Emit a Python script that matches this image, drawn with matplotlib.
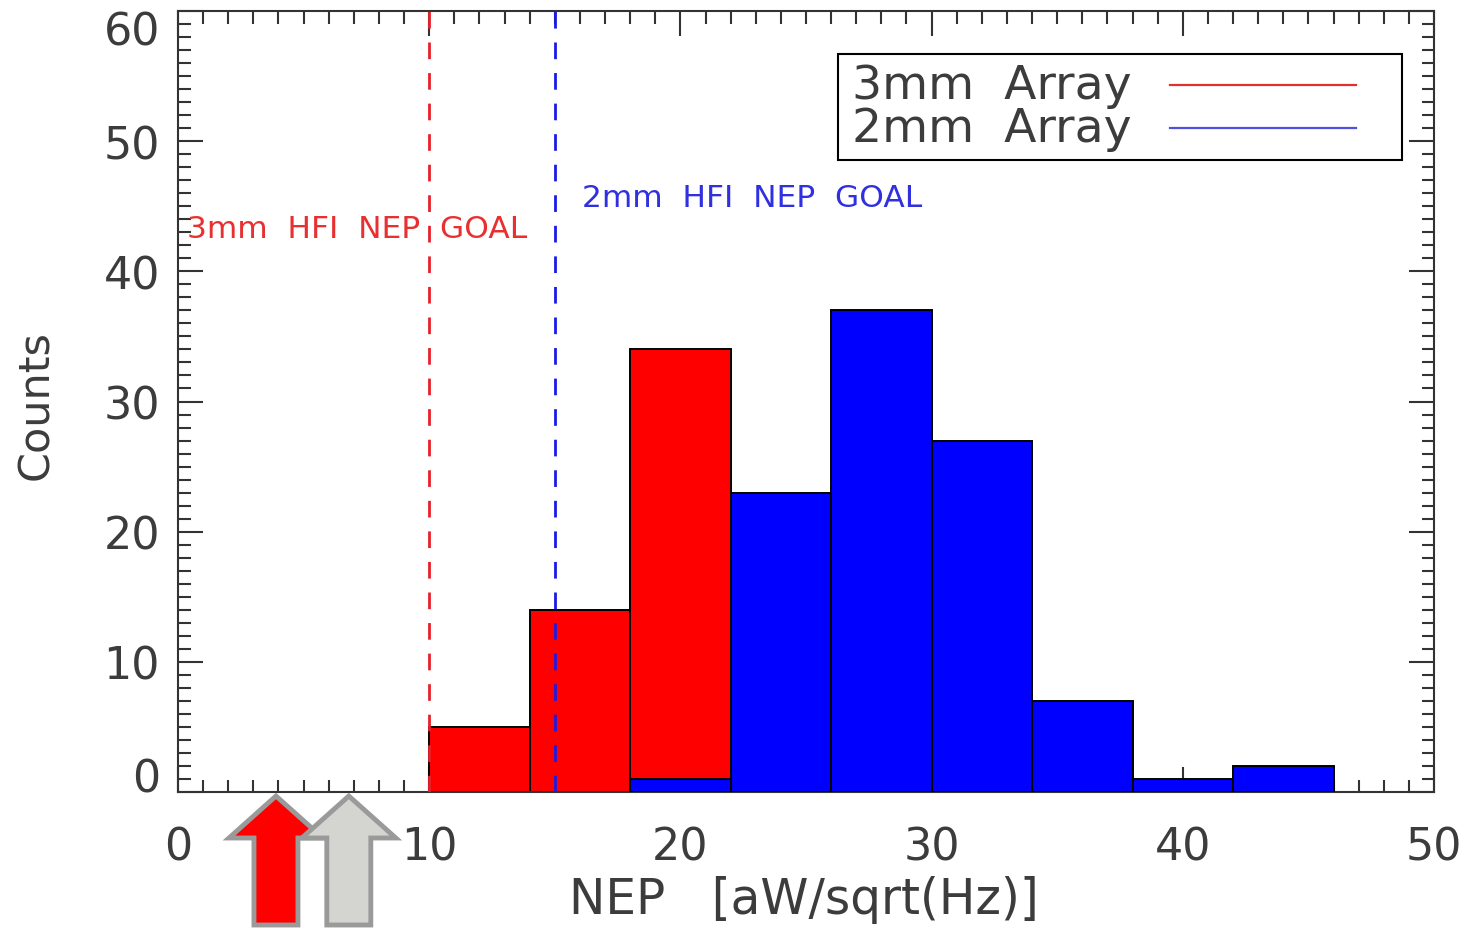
import matplotlib
matplotlib.use("Agg")
import matplotlib.pyplot as plt
from matplotlib.patches import Polygon
from matplotlib.ticker import MultipleLocator

# Histogram data: NEP bins (left edges, width 4) and counts
bin_width = 4
red_edges = [10, 14, 18]
red_counts = [5, 14, 34]
blue_edges = [18, 22, 26, 30, 34, 38, 42]
blue_counts = [1, 23, 37, 27, 7, 1, 2]

goal_3mm = 10
goal_2mm = 15

x_ticks = [0, 10, 20, 30, 40, 50]
y_ticks = [0, 10, 20, 30, 40, 50, 60]

legend_labels = ["3mm  Array", "2mm  Array"]
goal_labels = ["3mm  HFI  NEP  GOAL", "2mm  HFI  NEP  GOAL"]

# Arrow markers below the axis (NEP positions)
arrow_x = [3.9, 6.8]
arrow_fill = ["#ff0000", "#d4d4d0"]

txt = "#3c3c3c"
plt.rcParams['font.family'] = ['DejaVu Sans']

W, H = 1470, 929
fig = plt.figure(figsize=(W/100, H/100), dpi=100)
ax = fig.add_axes([178/W, 1-793/H, (1434-178)/W, (793-12)/H])

ax.bar(red_edges, red_counts, width=bin_width, align='edge', color='#ff0000',
       edgecolor='black', linewidth=1.4, zorder=2)
ax.bar(blue_edges, blue_counts, width=bin_width, align='edge', color='#0000ff',
       edgecolor='black', linewidth=1.4, zorder=3)

ax.axvline(goal_3mm, color='#e8202a', linestyle=(0, (6, 5)), linewidth=2, zorder=4)
ax.axvline(goal_2mm, color='#1a1ae6', linestyle=(0, (6, 5)), linewidth=2, zorder=4)

ax.text(0.35, 43.3, goal_labels[0], color='#e83030', fontsize=22.5,
        va='center', ha='left', zorder=5)
ax.text(16.1, 45.7, goal_labels[1], color='#3030e0', fontsize=22.5,
        va='center', ha='left', zorder=5)

ax.set_xlim(0, 50)
ax.set_ylim(0, 60)
ax.set_xticks(x_ticks)
ax.set_yticks(y_ticks)
ax.xaxis.set_minor_locator(MultipleLocator(1))
ax.yaxis.set_minor_locator(MultipleLocator(1))
ax.tick_params(which='both', direction='in', top=True, right=True,
               colors='#333333', labelcolor=txt, labelsize=32, width=1.5)
ax.tick_params(which='major', length=18)
ax.tick_params(which='minor', length=9)
ax.tick_params(axis='x', which='major', pad=24)
ax.tick_params(axis='y', which='major', pad=13)
for s in ax.spines.values():
    s.set_color('#333333')
    s.set_linewidth(1.5)

# End labels on the y axis sit inside the axis range
yticks = ax.yaxis.get_major_ticks()
yticks[0].label1.set_va('baseline')
yticks[-1].label1.set_va('top')

ax.set_xlabel("NEP   [aW/sqrt(Hz)]", fontsize=35, color=txt)
ax.xaxis.set_label_coords(0.498, -0.106)
ax.xaxis.label.set_va('top')
ax.set_ylabel("Counts", fontsize=31, color=txt)
ax.yaxis.set_label_coords(-0.096, 0.497)

# Legend box drawn in axes data units
px_x = (1434-178)/50
px_y = (793-12)/60
lx0, lx1 = (838-178)/px_x, (1402-178)/px_x
ly0, ly1 = (793-161)/px_y, (793-55)/px_y
ax.add_patch(plt.Rectangle((lx0, ly0), lx1-lx0, ly1-ly0, fill=False,
                           edgecolor='black', linewidth=1.5, zorder=6))
for i, (lab, col) in enumerate(zip(legend_labels, ['#e03030', '#5050e0'])):
    yy = (793-(86+43*i))/px_y
    ax.text((852-178)/px_x, yy, lab, fontsize=34, color=txt, va='center', ha='left', zorder=6)
    ax.plot([(1170-178)/px_x, (1356-178)/px_x], [yy, yy], color=col, linewidth=1.6, zorder=6)

# Upward block arrows beneath the axis, in figure pixels
for x0, fc in zip(arrow_x, arrow_fill):
    cx = 178 + x0*px_x
    tip, hb, bot = 797, 839, 926
    hw, sw = 47, 22
    pts = [(cx, tip), (cx+hw, hb), (cx+sw, hb), (cx+sw, bot), (cx-sw, bot),
           (cx-sw, hb), (cx-hw, hb)]
    pts = [(px/W, 1-py/H) for px, py in pts]
    fig.add_artist(Polygon(pts, closed=True, facecolor=fc, edgecolor='#9a9a9a',
                           linewidth=3.5, transform=fig.transFigure, zorder=10))

fig.savefig("out.png", dpi=100)
